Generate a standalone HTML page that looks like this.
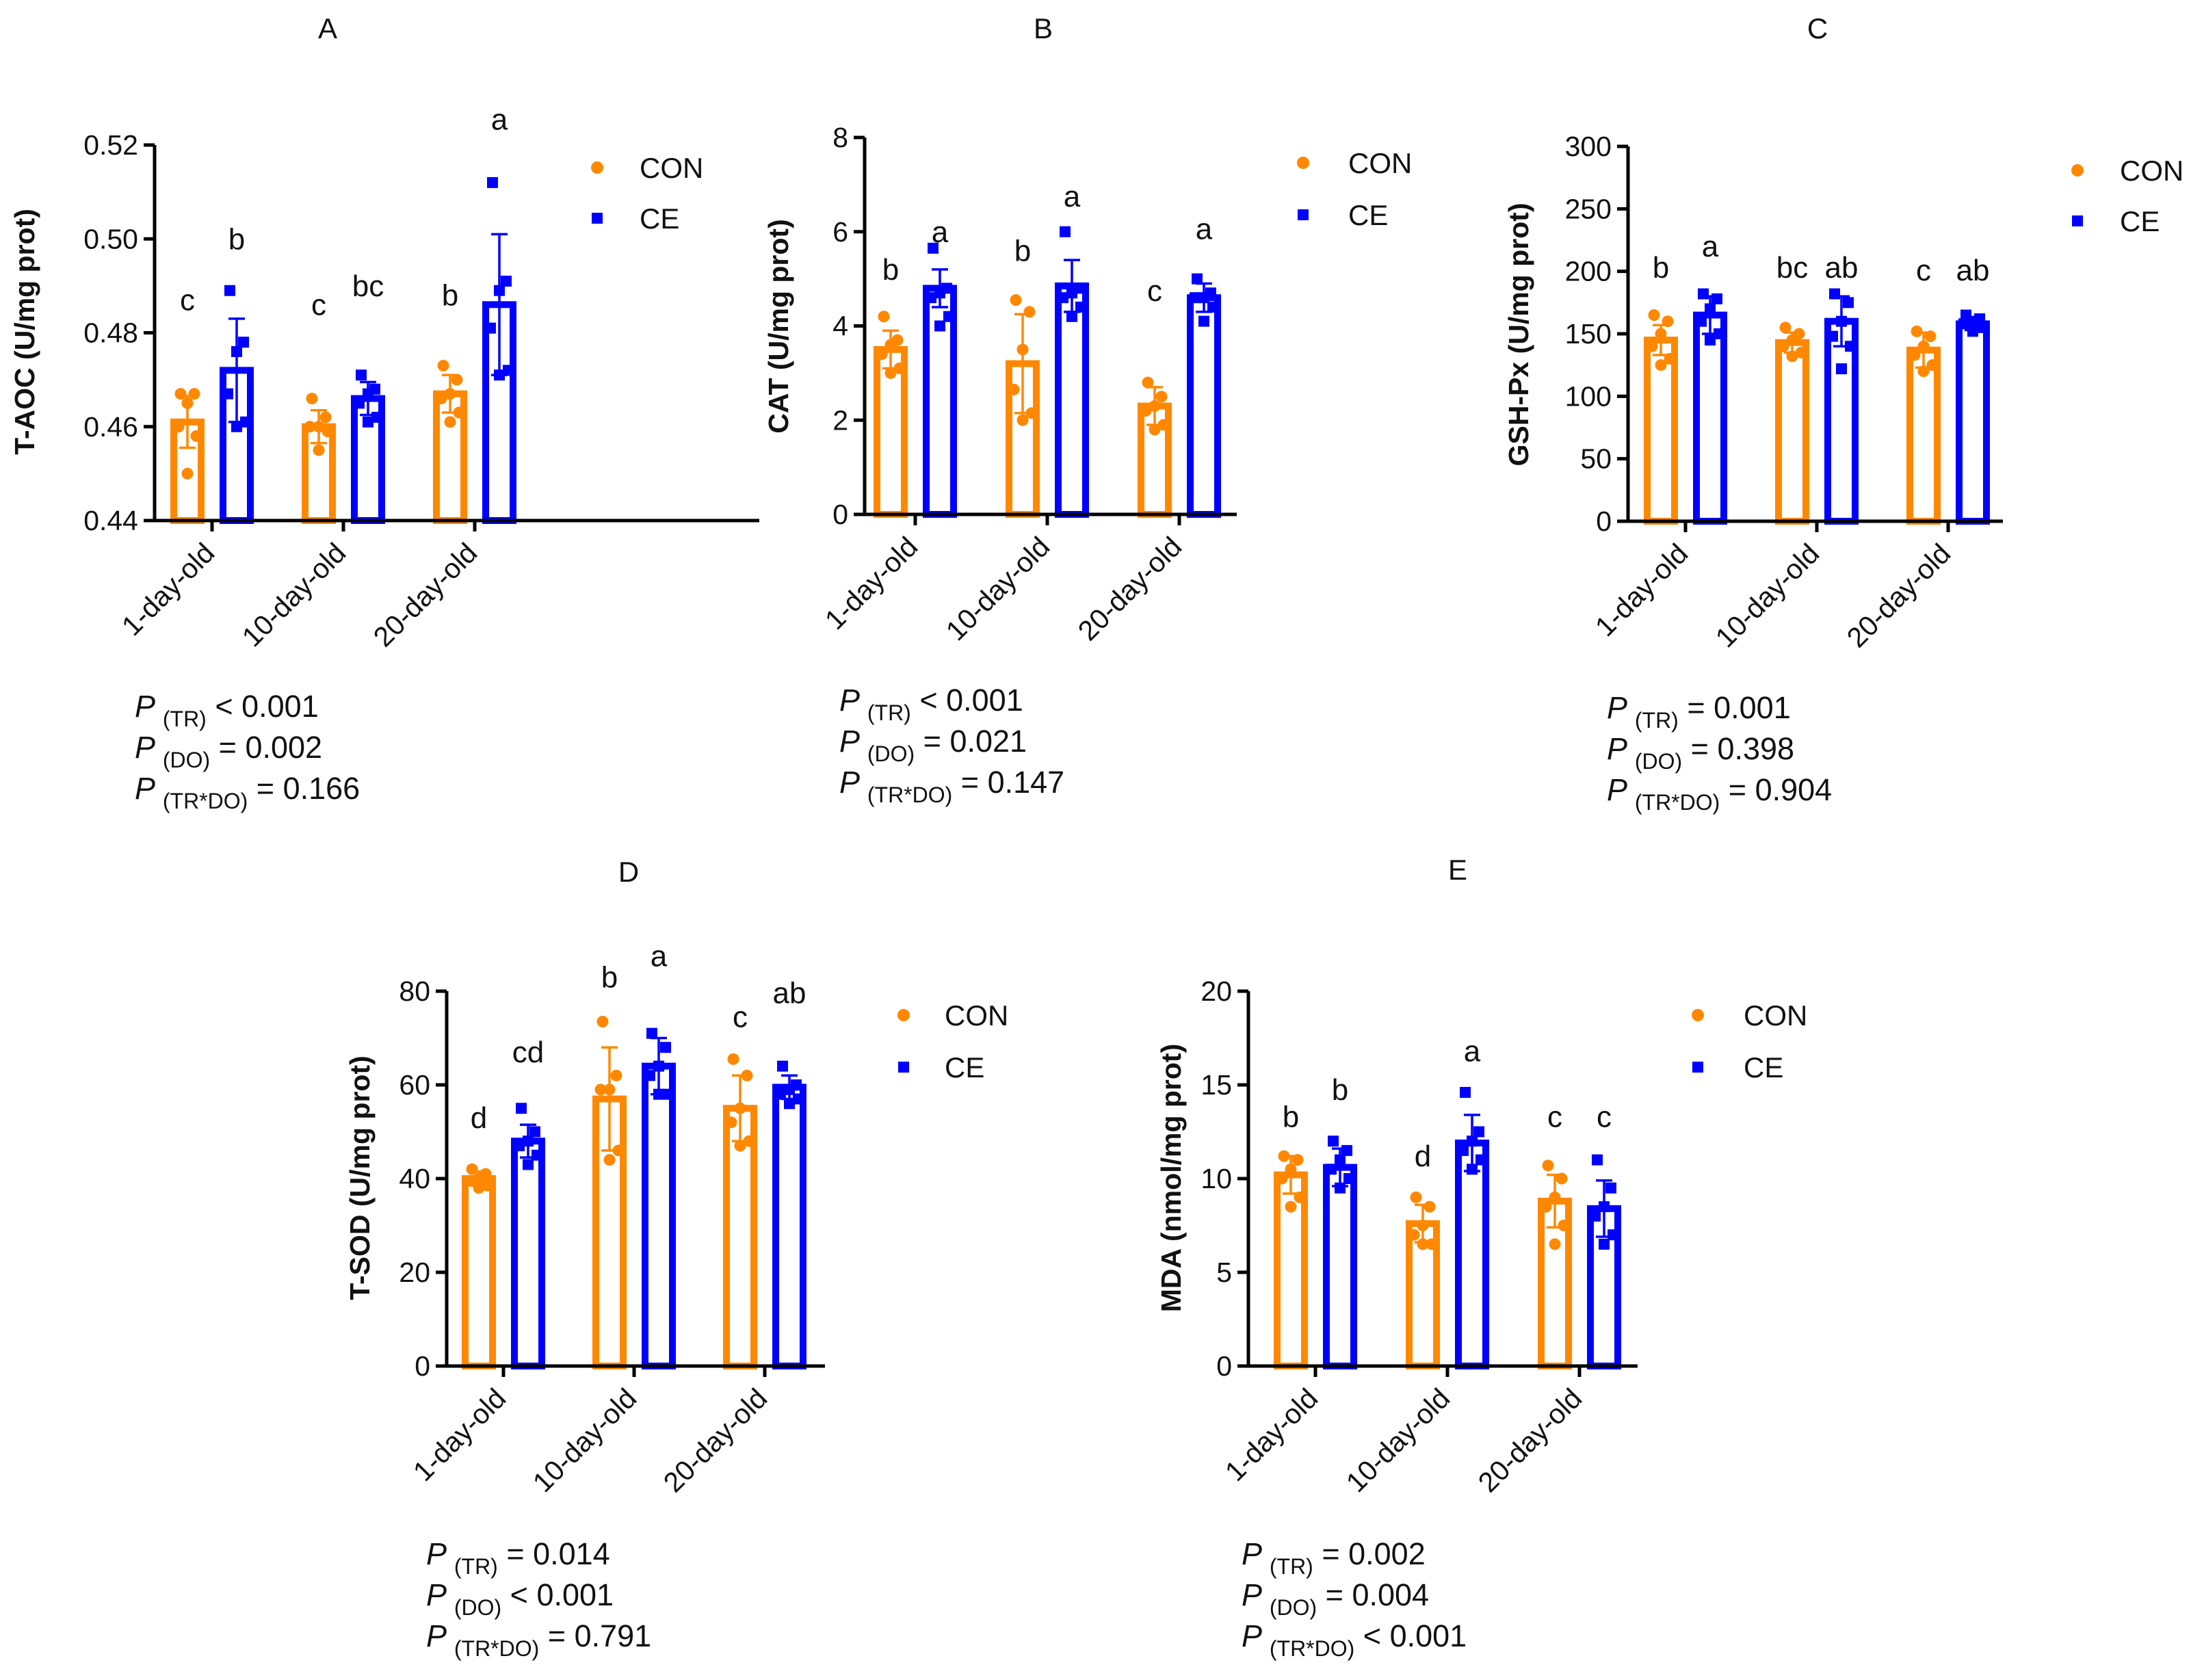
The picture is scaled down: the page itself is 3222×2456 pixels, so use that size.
<!DOCTYPE html>
<html><head><meta charset="utf-8"><style>
html,body{margin:0;padding:0;background:#fff;}
svg{display:block;font-family:"Liberation Sans",Arial,sans-serif;}
</style></head><body>
<svg id="fig" width="3222" height="2456" viewBox="0 0 3222 2456" xmlns="http://www.w3.org/2000/svg"></svg>
<script>
// ---------- DATA ----------
const categories = ["1-day-old","10-day-old","20-day-old"];

const aTicks = [0.44,0.46,0.48,0.50,0.52];
const aConMean = [0.461,0.460,0.467];
const aConSd = [0.0055,0.0035,0.004];
const aCeMean = [0.472,0.466,0.486];
const aCeSd = [0.011,0.0035,0.015];
const aConPts = [[0.467,0.467,0.465,0.460,0.458,0.450],[0.466,0.462,0.460,0.460,0.459,0.455],[0.473,0.470,0.467,0.466,0.463,0.461]];
const aCePts = [[0.489,0.478,0.476,0.467,0.461,0.460],[0.471,0.468,0.467,0.465,0.462,0.461],[0.512,0.491,0.489,0.481,0.472,0.471]];
const aConLetters = ["c","c","b"];
const aCeLetters = ["b","bc","a"];
const aConLetterY = [0.487,0.486,0.488];
const aCeLetterY = [0.5,0.49,0.5255];

const bTicks = [0,2,4,6,8];
const bConMean = [3.5,3.2,2.3];
const bConSd = [0.4,1.05,0.4];
const bCeMean = [4.8,4.85,4.6];
const bCeSd = [0.4,0.55,0.3];
const bConPts = [[4.2,3.7,3.6,3.4,3.1,3.0],[4.55,4.3,3.5,2.65,2.15,2.0],[2.8,2.5,2.3,2.2,1.9,1.8]];
const bCePts = [[5.65,4.8,4.7,4.6,4.2,4.0],[6.0,4.8,4.7,4.6,4.4,4.2],[5.0,4.7,4.6,4.6,4.4,4.1]];
const bConLetters = ["b","b","c"];
const bCeLetters = ["a","a","a"];
const bConLetterY = [5.2,5.6,4.75];
const bCeLetterY = [6.0,6.75,6.06];

const cTicks = [0,50,100,150,200,250,300];
const cConMean = [145,143,137];
const cConSd = [12,8,14];
const cCeMean = [165,160,158];
const cCeSd = [15,20,5];
const cConPts = [[165,160,150,140,130,125],[155,150,145,140,135,132],[152,148,140,133,125,120]];
const cCePts = [[182,178,170,160,150,145],[182,175,160,148,140,122],[165,162,160,158,155,152]];
const cConLetters = ["b","bc","c"];
const cCeLetters = ["a","ab","ab"];
const cConLetterY = [203,203,201];
const cCeLetterY = [220,203,201];

const dTicks = [0,20,40,60,80];
const dConMean = [40,57,55];
const dConSd = [1.5,11,7];
const dCeMean = [48,64,59.5];
const dCeSd = [3.5,6,2.5];
const dConPts = [[42,41,40,39.5,38.5,38],[73.5,62,59,59,46,44],[65.5,62,55,52,48,47]];
const dCePts = [[55,50,48,47,45,43],[71,68,64,62,58,58],[64,60,59,58,57,56]];
const dConLetters = ["d","b","c"];
const dCeLetters = ["cd","a","ab"];
const dConLetterY = [53,83,74.5];
const dCeLetterY = [67,87.5,79.6];

const eTicks = [0,5,10,15,20];
const eConMean = [10.2,7.6,8.8];
const eConSd = [1.0,1.0,1.4];
const eCeMean = [10.6,11.9,8.4];
const eCeSd = [1.0,1.5,1.5];
const eConPts = [[11.2,11,10.5,10,9,8.5],[9,8.5,7.5,7,6.5,6.5],[10.7,10,9,8.5,7.5,6.5]];
const eCePts = [[12,11.5,11,10.5,10,9.5],[14.6,12.5,12,11.5,11,10.5],[11,9.5,8.5,8,7,6.5]];
const eConLetters = ["b","d","c"];
const eCeLetters = ["b","a","c"];
const eConLetterY = [13.3,11.2,13.3];
const eCeLetterY = [14.75,16.8,13.3];

const ORANGE = "#ff8800", BLUE = "#0000ff";
const NS = "http://www.w3.org/2000/svg";
const svg = document.getElementById("fig");
function mk(tag, attrs, parent){
  const e = document.createElementNS(NS, tag);
  for (const k in attrs) e.setAttribute(k, attrs[k]);
  (parent||svg).appendChild(e);
  return e;
}
const jitter = [-10,10,0,-13,13,0];

function panel(cfg){
  const g = mk("g", {});
  
  
  const ymin = cfg.ticks[0], ymax = cfg.ticks[cfg.ticks.length-1];
  const yS = v => cfg.bot - (v - ymin) / (ymax - ymin) * (cfg.bot - cfg.top);
  const xS = i => cfg.c0 + cfg.step * i;

  const t = mk("text", {x: cfg.titleX, y: cfg.titleY + 15, "font-size": 42, "text-anchor": "middle", fill: "#111"}, g);
  t.textContent = cfg.id;
  
  

  const series = [
    {mean: cfg.conMean, sd: cfg.conSd, pts: cfg.conPts, col: ORANGE, off: -36, lab: cfg.conL, ly: cfg.conLY, name: "con", sq: false},
    {mean: cfg.ceMean, sd: cfg.ceSd, pts: cfg.cePts, col: BLUE, off: 36, lab: cfg.ceL, ly: cfg.ceLY, name: "ce", sq: true}
  ];
  series.forEach(s => {
    s.mean.forEach((m, i) => {
      const cx = xS(i) + s.off;
      const y = yS(m);
      const bar = mk("rect", {x: cx - 20, y: y, width: 40, height: cfg.bot - y, fill: "none", stroke: s.col, "stroke-width": 10}, g);
      
      
      const yh = yS(m + s.sd[i]), yl = yS(m - s.sd[i]);
      const eb = mk("path", {d: `M${cx},${yl}V${yh}M${cx-12},${yh}H${cx+12}M${cx-12},${yl}H${cx+12}`, stroke: s.col, "stroke-width": 3.5, fill: "none"}, g);
      
      
      s.pts[i].forEach((p, j) => {
        const px = cx + jitter[j], py = yS(p);
        let mark;
        if (s.sq) mark = mk("rect", {x: px - 8, y: py - 8, width: 16, height: 16, fill: s.col}, g);
        else mark = mk("circle", {cx: px, cy: py, r: 8.5, fill: s.col}, g);
        
        
      });
      const lt = mk("text", {x: cx, y: yS(s.ly[i]) + 15, "font-size": 44, "text-anchor": "middle", fill: "#111"}, g);
      lt.textContent = s.lab[i];
      
      
    });
  });

  const ax = mk("path", {d: `M${cfg.x0},${cfg.top}V${cfg.bot}H${cfg.xEnd}`, stroke: "#000", "stroke-width": 5, fill: "none"}, g);
  
  
  cfg.ticks.forEach(v => {
    const y = yS(v);
    const tk = mk("line", {x1: cfg.x0 - 16, x2: cfg.x0, y1: y, y2: y, stroke: "#000", "stroke-width": 5}, g);
    
    
    const tl = mk("text", {x: cfg.x0 - 24, y: y + 14, "font-size": 41, "text-anchor": "end", fill: "#111"}, g);
    tl.textContent = cfg.fmt(v);
    
    
  });
  categories.forEach((c, i) => {
    const x = xS(i);
    const tk = mk("line", {x1: x, x2: x, y1: cfg.bot, y2: cfg.bot + 16, stroke: "#000", "stroke-width": 5}, g);
    
    
    const tl = mk("text", {x: x + 6, y: cfg.bot + 50, "font-size": 41, "text-anchor": "end", fill: "#111", transform: `rotate(-45 ${x + 6} ${cfg.bot + 50})`}, g);
    tl.textContent = c;
    
    
  });
  const yl = mk("text", {x: cfg.ylX, y: cfg.ylY, "font-size": 41, "font-weight": "bold", "text-anchor": "middle", fill: "#111", transform: `rotate(-90 ${cfg.ylX} ${cfg.ylY})`}, g);
  yl.textContent = cfg.ylabel;
  
  

  const lc = mk("circle", {cx: cfg.lgX, cy: cfg.lgY, r: 9, fill: ORANGE}, g);
  
  
  const lct = mk("text", {x: cfg.lgTX, y: cfg.lgY + 15, "font-size": 42, fill: "#111"}, g);
  lct.textContent = "CON";
  
  
  const ls = mk("rect", {x: cfg.lgX - 8, y: cfg.lgY2 - 8, width: 16, height: 16, fill: BLUE}, g);
  
  
  const lst = mk("text", {x: cfg.lgTX, y: cfg.lgY2 + 15, "font-size": 42, fill: "#111"}, g);
  lst.textContent = "CE";
  
  

  cfg.pv.forEach((pv, k) => {
    const by = cfg.pY + k * 60;
    const tx = mk("text", {x: cfg.pX, y: by, "font-size": 45, fill: "#111"}, g);
    
    
    const s1 = mk("tspan", {"font-style": "italic"}, tx); s1.textContent = "P ";
    const s2 = mk("tspan", {"font-size": 32, dy: 14}, tx); s2.textContent = ["(TR)","(DO)","(TR*DO)"][k];
    const s3 = mk("tspan", {dy: -14}, tx); s3.textContent = " " + pv;
  });
}

const f2 = v => v.toFixed(2), f0 = v => String(v);
panel({id:"A", x0:226, top:212, bot:761, xEnd:1110, c0:310, step:192, ticks:aTicks, fmt:f2,
  conMean:aConMean, conSd:aConSd, ceMean:aCeMean, ceSd:aCeSd, conPts:aConPts, cePts:aCePts,
  conL:aConLetters, ceL:aCeLetters, conLY:aConLetterY, ceLY:aCeLetterY,
  titleX:479, titleY:41, ylX:50, ylY:485, ylabel:"T-AOC (U/mg prot)",
  lgX:873, lgY:245, lgY2:319, lgTX:935, pX:197, pY:1048, pv:["< 0.001","= 0.002","= 0.166"]});
panel({id:"B", x0:1264, top:201, bot:752, xEnd:1808, c0:1338, step:193, ticks:bTicks, fmt:f0,
  conMean:bConMean, conSd:bConSd, ceMean:bCeMean, ceSd:bCeSd, conPts:bConPts, cePts:bCePts,
  conL:bConLetters, ceL:bCeLetters, conLY:bConLetterY, ceLY:bCeLetterY,
  titleX:1525, titleY:41, ylX:1152, ylY:477, ylabel:"CAT (U/mg prot)",
  lgX:1905, lgY:238, lgY2:314, lgTX:1971, pX:1227, pY:1039, pv:["< 0.001","= 0.021","= 0.147"]});
panel({id:"C", x0:2380, top:214, bot:762, xEnd:2928, c0:2464, step:192, ticks:cTicks, fmt:f0,
  conMean:cConMean, conSd:cConSd, ceMean:cCeMean, ceSd:cCeSd, conPts:cConPts, cePts:cCePts,
  conL:cConLetters, ceL:cCeLetters, conLY:cConLetterY, ceLY:cCeLetterY,
  titleX:2657, titleY:41, ylX:2234, ylY:489, ylabel:"GSH-Px (U/mg prot)",
  lgX:3037, lgY:249, lgY2:323, lgTX:3099, pX:2349, pY:1050, pv:["= 0.001","= 0.398","= 0.904"]});
panel({id:"D", x0:653, top:1449, bot:1997, xEnd:1206, c0:736, step:191, ticks:dTicks, fmt:f0,
  conMean:dConMean, conSd:dConSd, ceMean:dCeMean, ceSd:dCeSd, conPts:dConPts, cePts:dCePts,
  conL:dConLetters, ceL:dCeLetters, conLY:dConLetterY, ceLY:dCeLetterY,
  titleX:919, titleY:1274, ylX:540, ylY:1722, ylabel:"T-SOD (U/mg prot)",
  lgX:1321, lgY:1484, lgY2:1560, lgTX:1381, pX:623, pY:2287, pv:["= 0.014","< 0.001","= 0.791"]});
panel({id:"E", x0:1825, top:1449, bot:1997, xEnd:2394, c0:1923, step:193, ticks:eTicks, fmt:f0,
  conMean:eConMean, conSd:eConSd, ceMean:eCeMean, ceSd:eCeSd, conPts:eConPts, cePts:eCePts,
  conL:eConLetters, ceL:eCeLetters, conLY:eConLetterY, ceLY:eCeLetterY,
  titleX:2131, titleY:1271, ylX:1726, ylY:1722, ylabel:"MDA (nmol/mg prot)",
  lgX:2482, lgY:1484, lgY2:1560, lgTX:2549, pX:1815, pY:2287, pv:["= 0.002","= 0.004","< 0.001"]});
</script>
</body></html>
